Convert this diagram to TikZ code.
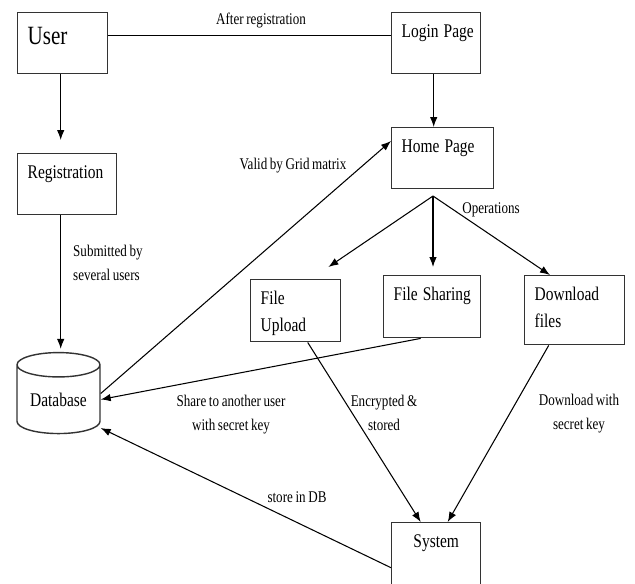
\documentclass[tikz,border=0pt]{standalone}
\usepackage{fontspec}
\setmainfont{Liberation Serif}[FakeStretch=0.8, WordSpace=0.8]
\usetikzlibrary{shapes.geometric,arrows.meta,calc}
\hyphenpenalty=10000

\begin{document}
\begin{tikzpicture}[
    x=0.02cm, y=-0.02cm,
    every node/.style={font=\fontsize{9.3}{13.6}\selectfont},
    box/.style={rectangle, draw=black!80, line width=0.8pt, anchor=north west,
                inner xsep=0.2cm, inner ysep=0pt, align=left,
                execute at begin node={\spaceskip=0.26em\xspaceskip=0pt},
                text height=0.5cm, font=\fontsize{11}{15.3}\selectfont},
    dbase/.style={cylinder, shape border rotate=90, aspect=0.43, draw=black!80,
                  line width=0.8pt, minimum width=1.66cm, minimum height=1.62cm,
                  inner sep=0pt, font=\fontsize{11}{13}\selectfont},
    lbl/.style={anchor=base, align=center},
    arrow/.style={-{Latex[length=0.2cm,width=0.15cm]}, line width=0.6pt},
    link/.style={line width=0.6pt}
]
\useasboundingbox (0,0) rectangle (635,583);

% Left column
\node[box, text width=1.4cm, text height=0.64cm, text depth=0.58cm,
      font=\fontsize{15}{18}\selectfont] (user) at (17,12) {User};
\node[box, text width=1.58cm, text depth=0.72cm] (reg) at (17,153) {Registration};
\node[dbase] (db) at (58.5,399.5) {Database};

% Right column
\node[box, text width=1.38cm, text depth=0.72cm] (login) at (391,12) {Login~Page};
\node[box, text width=1.64cm, text depth=0.72cm] (home) at (391,127) {Home~Page};

% Operations row
\node[box, text width=1.4cm, text depth=0.74cm] (upload) at (250,279) {File\\Upload};
\node[box, text width=1.54cm, text depth=0.74cm] (share) at (383,275) {File~Sharing};
\node[box, text width=1.6cm, text depth=0.88cm] (down) at (524,275) {Download\\files};

% Bottom
\node[box, align=center, text width=1.38cm, text depth=1.3cm] (sys) at (391,522) {System};

% Labels (multi-line ones sit on their last line)
\node[lbl] (lafter) at (261,24) {After registration};
\node[lbl] (lvalid) at (293,169) {Valid by Grid matrix};
\node[lbl] (lops) at (491,213) {Operations};
\node[lbl, anchor=base west, align=left] (lsub) at (67,280) {Submitted by\\several users};
\node[lbl] (lshare) at (231,430) {Share to another user\\with secret key};
\node[lbl] (lenc) at (384,430) {Encrypted \&\\stored};
\node[lbl] (ldown) at (579,429) {Download with\\secret key};
\node[lbl] (lstore) at (297,502) {store in DB};

% Arrows top
\draw[link] ([yshift=0.15cm]user.east) -- ([yshift=0.15cm]login.west);
\draw[arrow, shorten >=0.26cm] ([xshift=-0.04cm]user.south) -- ([xshift=-0.04cm]user.south |- reg.north);
\draw[arrow] ([xshift=-0.05cm]login.south) -- ([xshift=-0.05cm]login.south |- home.north);
\draw[arrow, shorten >=0.06cm] ([xshift=-0.13cm]reg.south) -- ([xshift=-0.13cm]reg.south |- db.north);

% Operations
\coordinate (ops) at (433,196);
\draw[arrow] (ops) -- ([shift={(-0.26cm,0.24cm)}]upload.north east);
\draw[arrow, shorten >=0.16cm] (ops) -- (ops |- share.north);
\draw[arrow] (ops) -- ([xshift=0.52cm]down.north west);

% Arrows to Database
\draw[arrow] ([yshift=0.12cm]db.east) -- ([yshift=-0.28cm]home.north west);
\draw[arrow] ([xshift=-0.23cm]share.south) -- (db.east);
\draw[arrow] (sys.west) -- ([yshift=-0.57cm]db.east);

% Arrows to System
\draw[arrow] ([xshift=0.24cm]upload.south) -- ([xshift=-0.31cm]sys.north);
\draw[arrow] ([xshift=-0.52cm]down.south) -- ([xshift=0.23cm]sys.north);

\end{tikzpicture}
\end{document}
